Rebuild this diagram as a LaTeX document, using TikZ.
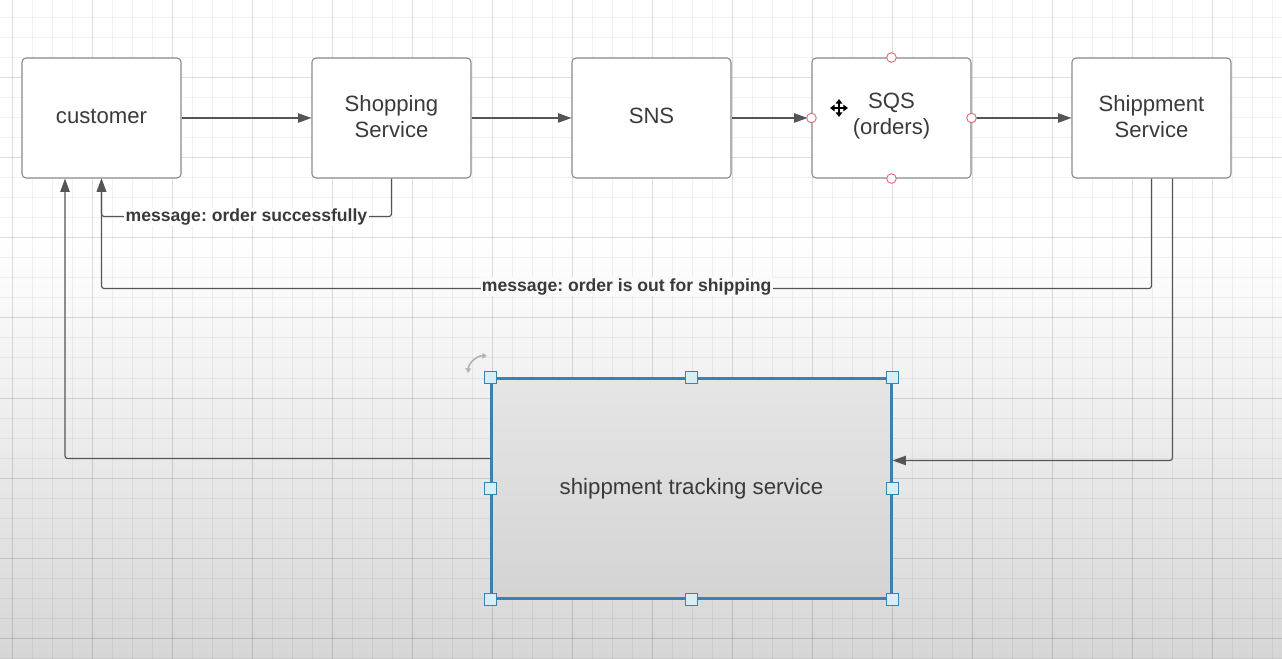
\documentclass[tikz,border=0pt]{standalone}
\usepackage{fontspec}
\setmainfont{Liberation Sans}
\usetikzlibrary{arrows.meta,calc}
\frenchspacing
\definecolor{bgbot}{HTML}{D6D6D6}
\definecolor{boxline}{HTML}{8A8A8A}
\definecolor{conncol}{HTML}{555555}
\definecolor{txtcol}{HTML}{3A3A3A}
\definecolor{selblue}{HTML}{3584B0}
\definecolor{handlefill}{HTML}{D8EEF6}
\definecolor{pinkpt}{HTML}{E06A7C}
\begin{document}
\begin{tikzpicture}[x=0.75pt,y=-0.75pt,
  gridminor/.style={draw=black,opacity=0.05,line width=0.75pt},
  gridmajor/.style={draw=black,opacity=0.085,line width=0.75pt},
  box/.style={draw=boxline,fill=white,line width=0.8pt,rounded corners=3pt,
    minimum width=119.25pt,minimum height=90pt,inner sep=0pt},
  boxtxt/.style={text=txtcol,font=\fontsize{16.6}{19.5}\selectfont,align=center,
    inner sep=0pt,yshift=1.3pt},
  conn/.style={draw=conncol,line width=0.9pt,rounded corners=2pt,
    -{Triangle[length=10pt,width=7pt]}},
  lbl/.style={fill=white,inner sep=1pt,text=txtcol,
    font=\fontsize{13.2}{15}\selectfont\bfseries},
  cpoint/.style={draw=pinkpt,fill=white,line width=0.7pt},
  handle/.style={draw=selblue,fill=handlefill,line width=0.8pt}
]
\useasboundingbox (0,0) rectangle (1282,659);
% background
\fill[white] (0,0) rectangle (1282,241);
\shade[top color=white,bottom color=bgbot] (0,240) rectangle (1282,659);
\foreach \i in {0,...,63} \draw[gridminor] ({12.7+20*\i},0) -- ({12.7+20*\i},659);
\foreach \j in {0,...,32} \draw[gridminor] (0,{18+20*\j}) -- (1282,{18+20*\j});
\foreach \i in {0,...,15} \draw[gridmajor] ({12.7+80*\i},0) -- ({12.7+80*\i},659);
\foreach \j in {0,...,7} \draw[gridmajor] (0,{78+80*\j}) -- (1282,{78+80*\j});

% boxes
\node[box,label={[boxtxt]center:customer}] (cust) at (101.5,118) {};
\node[box,label={[boxtxt]center:{Shopping\\Service}}] (shop) at (391.5,118) {};
\node[box,label={[boxtxt]center:SNS}] (sns) at (651.5,118) {};
\node[box,label={[boxtxt]center:{SQS\\(orders)}}] (sqs) at (891.5,118) {};
\node[box,label={[boxtxt]center:{Shippment\\Service}}] (ship) at (1151.5,118) {};
\shade[top color=white!90!black,bottom color=white!83!black,draw=none]
  (491.5,378.5) rectangle (891.5,598.5);
\node[draw=selblue,line width=1.6pt,minimum width=300pt,minimum height=165pt,
  inner sep=0pt,text=txtcol,font=\fontsize{16.7}{19.5}\selectfont]
  (track) at (691.5,488.5) {shippment tracking service};

% connectors
\draw[conn] (cust.east) -- (shop.west);
\draw[conn] (shop.east) -- (sns.west);
\draw[conn,shorten >=3pt] (sns.east) -- (sqs.west);
\draw[conn] (sqs.east) -- (ship.west);
\draw[conn] (shop.south) -- ++(0,38) -| (cust.south);
\draw[conn] (ship.south) -- ++(0,110) -| (cust.south);
\coordinate (shipout) at ($(ship.south)+(21,0)$);
\coordinate (trackin) at ($(track.east)+(0,-28)$);
\draw[conn] (shipout) |- (trackin);
\coordinate (trackout) at ($(track.west)+(0,-30)$);
\coordinate (custin) at ($(cust.south)+(-36.5,0)$);
\draw[conn] (trackout) -| (custin);

% labels
\node[lbl] (l1) at (246.5,216.5) {message: order successfully};
\node[lbl,fill=white!98!black] (l2) at (626.7,286.5) {message: order is out for shipping};

% connection points on SQS
\foreach \a in {north,south,east,west} \draw[cpoint] (sqs.\a) circle (3.6pt);

% selection handles
\foreach \a in {north west,north,north east,west,east,south west,south,south east}
  \draw[handle] ($(track.\a)+(-6,-6)$) rectangle ($(track.\a)+(6,6)$);

% rotate icon
\draw[draw=black!30,line width=1.2pt,{Triangle[length=3.5pt,width=4pt]}-{Triangle[length=3.5pt,width=4pt]}]
  (468,373) to[bend left=45] (487,356);

% move cursor
\draw[black,line width=1.6pt,{Triangle[length=3.5pt,width=5pt]}-{Triangle[length=3.5pt,width=5pt]}]
  (830,108) -- (848,108);
\draw[black,line width=1.6pt,{Triangle[length=3.5pt,width=5pt]}-{Triangle[length=3.5pt,width=5pt]}]
  (839,99) -- (839,117);
\end{tikzpicture}
\end{document}
